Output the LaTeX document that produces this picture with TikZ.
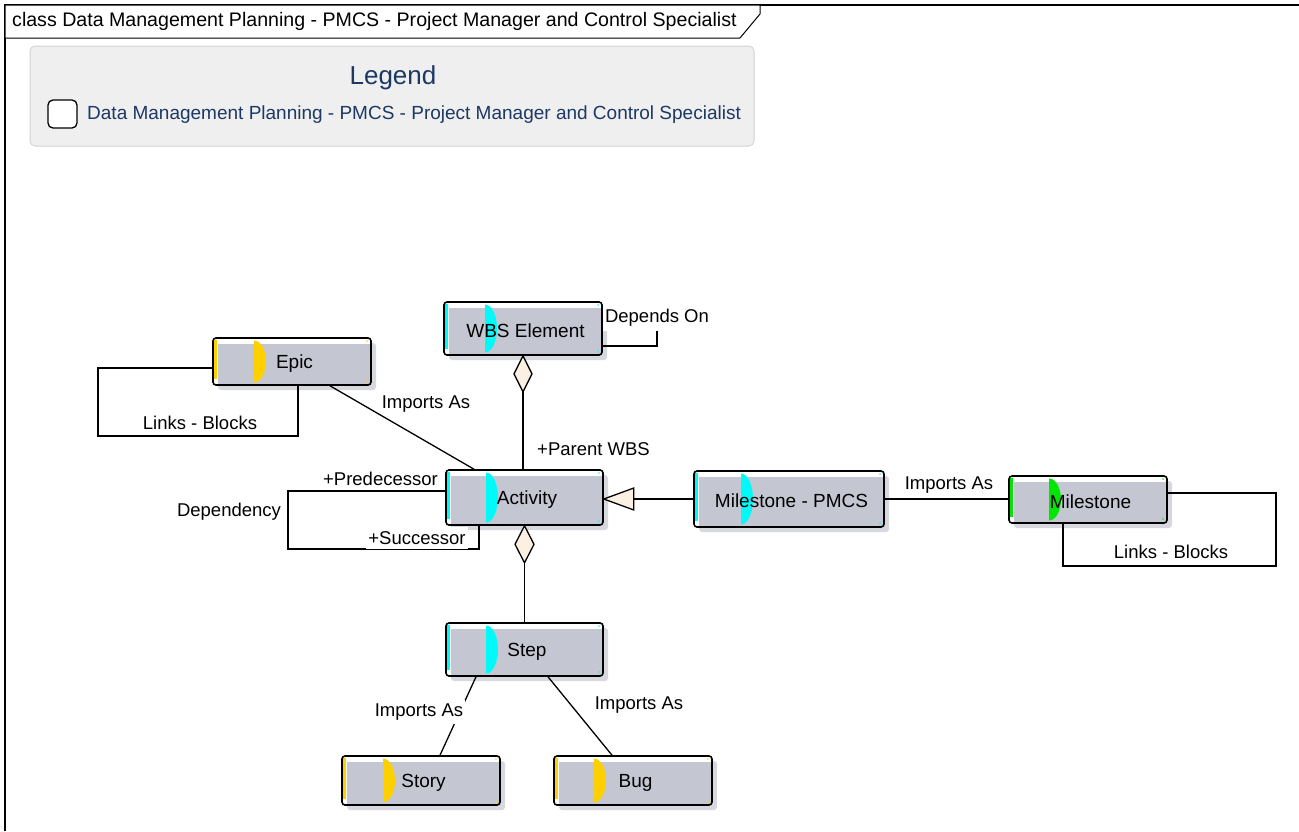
\documentclass[tikz,border=0pt]{standalone}
\usepackage{fontspec}
\setmainfont{Liberation Sans}
\usetikzlibrary{fit}
\definecolor{boxgrey}{RGB}{196,199,210}
\definecolor{shadowgrey}{RGB}{214,216,222}
\definecolor{legendfill}{RGB}{239,239,239}
\definecolor{legendline}{RGB}{210,210,210}
\definecolor{legendtext}{RGB}{28,56,100}
\definecolor{beige}{RGB}{251,240,225}
\definecolor{epicyellow}{RGB}{255,208,0}
\definecolor{actcyan}{RGB}{0,250,250}
\definecolor{msgreen}{RGB}{0,230,0}
\tikzset{
  classbox/.style={draw=black, line width=1.6pt, rounded corners=3pt, inner sep=0pt},
  classtext/.style={font=\fontsize{19}{23}\selectfont, inner sep=1pt},
  conn/.style={draw=black, line width=1.3pt},
  elabel/.style={font=\fontsize{18.5}{22}\selectfont, inner sep=1pt},
  wlabel/.style={elabel, fill=white, inner xsep=2pt, inner ysep=4pt},
  diam/.style={draw=black, line width=1.3pt, fill=beige, line join=miter},
}
\newcommand{\umlclass}[8]{%
  \fill[shadowgrey,rounded corners=3pt] (#2+5,#3+5) rectangle (#4+5,#5+5);
  \fill[white,rounded corners=3pt] (#2,#3) rectangle (#4,#5);
  \fill[boxgrey] (#2+5,#3+6) rectangle (#4-1,#5-1);
  \fill[#6] (#2+1,#3+2) rectangle (#2+4,#5-6);
  \begin{scope}
    \clip (#2+#7,#3) rectangle (#2+#7+20,#5);
    \fill[#6] (#2+#7,{(#3+#5)/2}) ellipse[x radius=12,y radius={(#5-#3)/2-2.5}];
  \end{scope}
  \fill[#6] (#4-4,#3+3) circle[radius=0.9];
  \fill[#6] (#4-4,#5-4) circle[radius=0.9];
  \coordinate (#1-nw) at (#2,#3);
  \coordinate (#1-se) at (#4,#5);
  \node[classbox, fit=(#1-nw)(#1-se)] (#1) {};
  \node[classtext] (#1-label) at ({(#2+#4)/2+2.5},{(#3+#5)/2+2}) {#8};
}
\begin{document}
\begin{tikzpicture}[x=1pt,y=-1pt]
\useasboundingbox (0,0) rectangle (1299,831);
% frame
\draw[line width=1.2pt] (5,831) -- (5,5) -- (1299,5);
\draw[line width=1pt, fill=white] (5,5) -- (760,5) -- (760,14) -- (740,38) -- (5,38) -- cycle;
\node[anchor=west, font=\fontsize{19.6}{23}\selectfont, inner sep=0pt] (title) at (12,21) {class Data Management Planning - PMCS - Project Manager and Control Specialist};
% legend
\draw[fill=legendfill, draw=legendline, line width=1pt, rounded corners=5pt] (30,46) rectangle (754,146);
\node[font=\fontsize{26}{30}\selectfont, text=legendtext, inner sep=0pt] (legtitle) at (393,78) {Legend};
\draw[line width=1.3pt, fill=white, rounded corners=5pt] (48,100) rectangle (77,128);
\node[anchor=west, font=\fontsize{19}{23}\selectfont, text=legendtext, inner sep=0pt] (legitem) at (87,115) {Data Management Planning - PMCS - Project Manager and Control Specialist};
% classes
\umlclass{wbs}{444}{302}{602}{355}{actcyan}{41}{WBS Element}
\umlclass{epic}{213}{338}{371}{385}{epicyellow}{41}{Epic}
\umlclass{act}{446}{470}{603}{525}{actcyan}{40}{Activity}
\umlclass{ms}{694}{471}{884}{527}{actcyan}{47}{Milestone - PMCS}
\umlclass{m}{1009}{476}{1167}{523}{msgreen}{40}{Milestone}
\umlclass{step}{446}{623}{603}{676}{actcyan}{40}{Step}
\umlclass{story}{342}{756}{500}{805}{epicyellow}{41}{Story}
\umlclass{bug}{554}{756}{712}{805}{epicyellow}{40}{Bug}
% WBS self loop
\draw[conn] (wbs.east |- 0,319) -- (657,319) -- (657,346) -- (wbs.east |- 0,346);
\node[wlabel] (dep) at (657,318) {Depends On};
% WBS - Activity composition
\draw[conn] (wbs.south) -- (wbs.south |- act.north);
\draw[diam] (wbs.south) -- ++(9,18) -- ++(-9,18) -- ++(-9,-18) -- cycle;
\node[elabel, anchor=west] (pwbs) at (536,449) {+Parent WBS};
% Epic - Activity
\draw[conn] (epic.south -| 330,0) -- (act.north -| 474,0);
\node[elabel] (ia1) at (426,404) {Imports As};
% Epic loop
\draw[conn] (epic.west |- 0,368) -- (98,368) -- (98,436) -- (298,436) -- (epic.south -| 298,0);
\node[elabel] (lb1) at (200,423) {Links - Blocks};
% Activity loop
\draw[conn] (act.west |- 0,491) -- (288,491) -- (288,549) -- (479,549) -- (act.south -| 479,0);
\node[elabel, anchor=east] (pred) at (439,479) {+Predecessor};
\node[wlabel] (succ) at (417,538) {+Successor};
\node[elabel] (depy) at (229,512) {Dependency};
% generalization
\coordinate (gtip) at (ms.west -| act.east);
\draw[conn] (ms.west) -- ([xshift=30pt]gtip);
\draw[diam] (gtip) -- ++(30,-11) -- ++(0,22) -- cycle;
% Milestone PMCS - Milestone
\draw[conn] (ms.east) -- (ms.east -| m.west);
\node[elabel] (ia2) at (949,485) {Imports As};
% Milestone loop
\draw[conn] (m.east |- 0,493) -- (1276,493) -- (1276,566) -- (1063,566) -- (m.south -| 1063,0);
\node[elabel] (lb2) at (1171,552) {Links - Blocks};
% Activity - Step composition
\draw[conn] (act.south) -- (step.north);
\draw[diam] (act.south) -- ++(9.5,18.5) -- ++(-9.5,18.5) -- ++(-9.5,-18.5) -- cycle;
% Step - Story / Bug
\draw[conn] (step.south -| 476,0) -- (story.north -| 440,0);
\node[wlabel] (ia3) at (419,712) {Imports As};
\draw[conn] (step.south -| 548,0) -- (bug.north -| 612,0);
\node[elabel] (ia4) at (639,705) {Imports As};
\end{tikzpicture}
\end{document}
